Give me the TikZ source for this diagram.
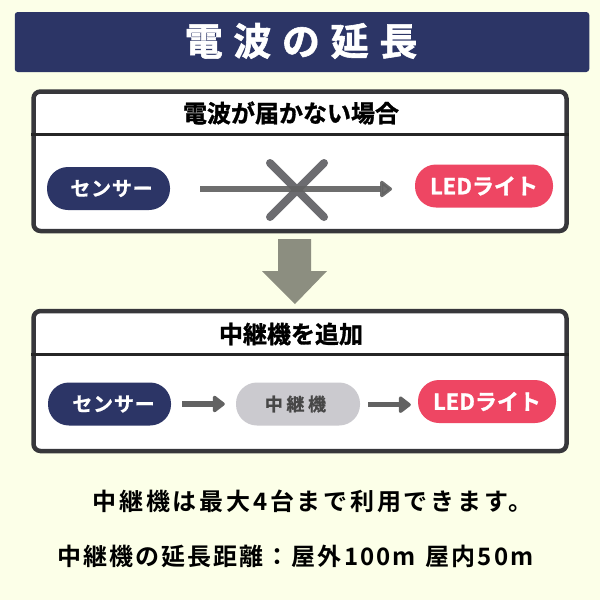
\documentclass[tikz,border=0pt]{standalone}
\usepackage{fontspec}
\usetikzlibrary{arrows.meta}
\newfontfamily\jb{Noto Sans CJK JP Bold}[FakeBold=1.2]
\newfontfamily\jbt{Noto Sans CJK JP Bold}[FakeBold=1.5,LetterSpace=28]
\newfontfamily\jbn{Noto Sans CJK JP Bold}[LetterSpace=11.5]
\newfontfamily\jbm{Noto Sans CJK JP Bold}[LetterSpace=8.5]
\newfontfamily\jbp{Noto Sans CJK JP Bold}[FakeBold=0.6,LetterSpace=4]
\newfontfamily\jbr{Noto Sans CJK JP Bold}[FakeBold=0.6,LetterSpace=20]
\definecolor{navy}{HTML}{2C3566}
\definecolor{pinkc}{HTML}{EE4663}
\definecolor{bgc}{HTML}{FCFFE8}
\definecolor{greyc}{HTML}{626262}
\definecolor{crossc}{HTML}{6C6C70}
\definecolor{relay}{HTML}{CBCACF}
\definecolor{darrow}{HTML}{8C8E80}
\definecolor{boxline}{HTML}{37373B}
\tikzset{
 pill/.style={rounded corners=21pt,anchor=center,inner sep=0pt,text=white,minimum height=43pt},
 lab/.style={anchor=center,inner sep=0pt},
 panel/.style={draw=boxline,line width=4.5pt,rounded corners=7pt,fill=white,inner sep=0pt,minimum width=533pt},
 conn/.style={draw=greyc,line width=5.5pt,-{Triangle[length=13pt,width=19pt,round]}},
 divider/.style={draw=black!85,line width=3pt}
}
\begin{document}
\begin{tikzpicture}[x=1pt,y=-1pt]
\useasboundingbox (0,0) rectangle (600,600);
\fill[bgc] (0,0) rectangle (600,600);
% title
\node[fill=navy,rounded corners=3pt,minimum width=574.5pt,minimum height=60pt,inner sep=0pt] (title) at (302,42) {};
\node[lab,text=white,font=\jbt\fontsize{38}{38}\selectfont] (tt) at (301,41) {電波の延長};
% top panel
\node[panel,minimum height=139.5pt] (p1) at (300,161.25) {};
\coordinate (p1a) at (31,134.7); \coordinate (p1b) at (569,134.7);
\draw[divider] (p1a)--(p1b);
\node[lab,font=\jb\fontsize{24}{24}\selectfont] (p1t) at (291,113) {電波が届かない場合};
\node[pill,fill=navy,minimum width=123pt] (s1) at (108.5,188.5) {};
\node[lab,text=white,font=\jbp\fontsize{20}{20}\selectfont] (s1t) at (111.5,188.5) {センサー};
\node[pill,fill=pinkc,minimum width=138pt,font=\jb\fontsize{22}{22}\selectfont] (l1) at (484,186) {LEDライト};
\coordinate (a1s) at (200,189); \coordinate (a1e) at (392,189);
\coordinate (x1) at (270,163); \coordinate (x2) at (324,217);
\coordinate (x3) at (324,163); \coordinate (x4) at (270,217);
\draw[crossc,line width=8pt,line cap=round] (x1)--(x2) (x3)--(x4);
\draw[conn,opacity=.92] (a1s)--(a1e);
% big arrow
\fill[darrow] (278,239)--(311,239)--(311,271)--(327,271)--(295,304)--(262,271)--(278,271)--cycle;
% bottom panel
\node[panel,minimum height=140pt] (p2) at (300,381) {};
\coordinate (p2a) at (31,354.3); \coordinate (p2b) at (569,354.3);
\draw[divider] (p2a)--(p2b);
\node[lab,font=\jb\fontsize{24}{24}\selectfont] (p2t) at (291,334) {中継機を追加};
\node[pill,fill=navy,minimum width=123pt] (s2) at (109.5,404) {};
\node[lab,text=white,font=\jbp\fontsize{20}{20}\selectfont] (s2t) at (113.5,404) {センサー};
\node[pill,fill=relay,minimum width=124pt] (r2) at (298,404) {};
\node[lab,text=black!72,font=\jbr\fontsize{18}{18}\selectfont] (r2t) at (295.5,404) {中継機};
\node[pill,fill=pinkc,minimum width=138pt,font=\jb\fontsize{22}{22}\selectfont] (l2) at (487,401.5) {LEDライト};
\draw[conn,shorten <=11pt,shorten >=11pt] (s2.east) -- (r2.west);
\coordinate (c2) at (l2.west|-0,404.7);
\coordinate (c1) at (r2.east|-0,404.7);
\draw[conn,shorten <=8pt,shorten >=7pt] (c1) -- (c2);
% text
\node[lab,font=\jbn\fontsize{24}{24}\selectfont] (n1) at (312.5,501) {中継機は最大4台まで利用できます。};
\node[lab,font=\jbm\fontsize{24}{24}\selectfont] (n2) at (295.5,556) {中継機の延長距離：屋外100m\hspace{10pt}屋内50m};
\end{tikzpicture}
\end{document}
